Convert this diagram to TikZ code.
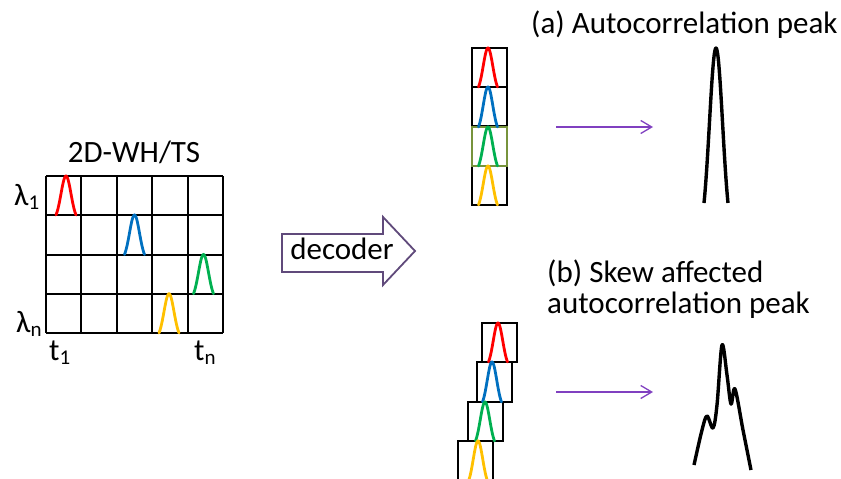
\documentclass[tikz,border=0pt]{standalone}
\usepackage{fontspec}
\setmainfont{Carlito}
\usetikzlibrary{arrows.meta}
\definecolor{pred}{HTML}{FF0000}
\definecolor{pblue}{HTML}{0070C0}
\definecolor{pgreen}{HTML}{00B050}
\definecolor{pyellow}{HTML}{FFC000}
\definecolor{olivebox}{HTML}{77933C}
\definecolor{decpurple}{HTML}{604A7B}
\definecolor{arrpurple}{HTML}{8040C0}
% Gaussian-like optical pulse: colour, centre x, peak y, base y, half width
\newcommand\pulsecurve[5]{%
  \draw[pulse,#1] plot[domain=-1:1,samples=41,smooth]
    ({#2+#5*\x},{#4-(#4-#3)*(exp(-(\x)*(\x)/0.5)-0.135)/0.865});}
\begin{document}
\begin{tikzpicture}[x=1pt,y=-1pt,
  lbl/.style={font=\fontsize{31}{32}\selectfont, inner sep=0pt},
  gridline/.style={line width=2pt, black},
  cellbox/.style={line width=2pt, black},
  pulse/.style={line width=2.8pt, line cap=round},
  peak/.style={line width=3.4pt, line join=round},
  link/.style={line width=1.3pt, arrpurple, -{Straight Barb[length=11pt,width=13pt]}},
]
\useasboundingbox (0,0) rectangle (841,479);
\newcommand\lsub[1]{\raisebox{-4pt}{\fontsize{21}{21}\selectfont #1}}

% ---- 2D-WH/TS code matrix ----
\foreach \xx in {46,81.4,116.8,152.2,187.6,223}
  \draw[gridline] (\xx,176) -- (\xx,333);
\foreach \yy in {176,215.25,254.5,293.75,333}
  \draw[gridline] (46,\yy) -- (223,\yy);
\pulsecurve{pred}{66}{176}{215}{10}
\pulsecurve{pblue}{134.5}{215}{254.5}{10}
\pulsecurve{pgreen}{203.5}{254.5}{293.75}{10}
\pulsecurve{pyellow}{169}{293.75}{333}{10}

\node[lbl, anchor=base] (title) at (134,162) {2D-WH/TS};
\node[lbl, anchor=base west] (lam1) at (14,205) {λ\lsub{1}};
\node[lbl, anchor=base west] (lamn) at (16,332) {λ\lsub{n}};
\node[lbl, anchor=base west] (t1) at (49,360) {t\lsub{1}};
\node[lbl, anchor=base west] (tn) at (194,360) {t\lsub{n}};

% ---- decoder block arrow ----
\draw[line width=1.8pt, decpurple, fill=white, line join=miter]
  (282,234) -- (383,234) -- (383,217) -- (415,251) -- (383,285) -- (383,272) -- (282,272) -- cycle;
\node[lbl, anchor=base] (dec) at (342,259) {decoder};

% ---- (a) aligned pulses ----
\foreach \yy in {48,87,166}
  \draw[cellbox] (472,\yy) rectangle (507,\yy+39);
\draw[cellbox, draw=olivebox] (472,127) rectangle (507,166);
\pulsecurve{pred}{488}{48}{87}{9.5}
\pulsecurve{pblue}{488}{87}{127}{9.5}
\pulsecurve{pgreen}{488}{127}{166}{9.5}
\pulsecurve{pyellow}{488}{166}{205}{9.5}

\coordinate (a1s) at (556,127);
\coordinate (a1e) at (653,127);
\draw[link] (a1s) -- (a1e);

\draw[peak] plot[domain=-1:1,samples=41,smooth]
  ({716+12*\x},{203-155*(exp(-(\x)*(\x)/0.6)-0.189)/0.811});

\node[lbl, anchor=base west] (capa) at (531,33) {(a) Autocorrelation peak};

% ---- (b) skewed pulses ----
\begin{scope}
\clip (0,0) rectangle (841,479);
\draw[cellbox] (482,323) rectangle (517,362);
\draw[cellbox] (477,362) rectangle (512,402);
\draw[cellbox] (468,402) rectangle (503,441);
\draw[cellbox] (458,441) rectangle (493,480);
\pulsecurve{pred}{498}{323}{362}{9.5}
\pulsecurve{pblue}{492}{362}{402}{9.5}
\pulsecurve{pgreen}{485}{402}{441}{9.5}
\pulsecurve{pyellow}{478}{441}{481}{9.5}
\end{scope}

\coordinate (b1s) at (556,392);
\coordinate (b1e) at (653,392);
\draw[link] (b1s) -- (b1e);

\draw[peak] plot[smooth, tension=0.55] coordinates
  {(694,465) (702,430) (707,416) (713,428) (717,405) (722,345) (727,375) (731,404) (735,389) (743,430) (751,470)};

\node[lbl, anchor=base west] (capb1) at (547,282) {(b) Skew affected};
\node[lbl, anchor=base west] (capb2) at (547,313) {autocorrelation peak};
\end{tikzpicture}
\end{document}
